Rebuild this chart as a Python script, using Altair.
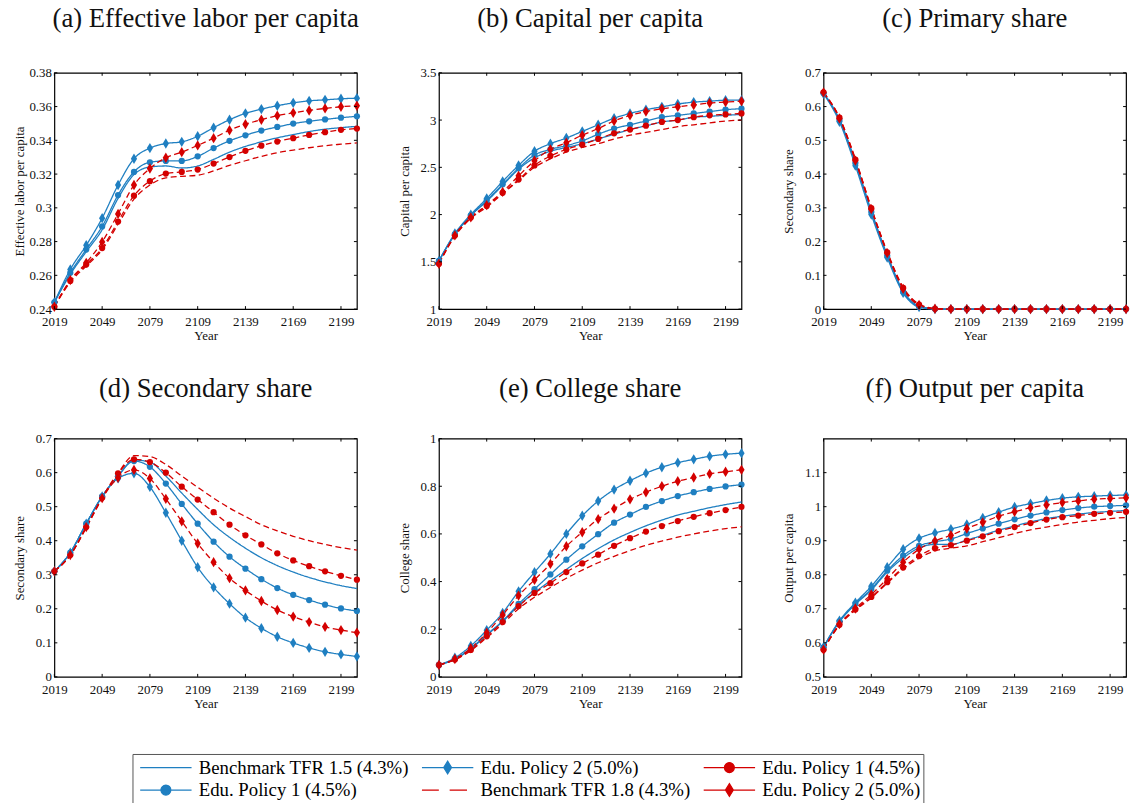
import altair as alt
import pandas as pd

# ---------------------------------------------------------------- data
YEARS = list(range(2019, 2210, 10))
X_TICKS = [2019, 2049, 2079, 2109, 2139, 2169, 2199]

# (a) Effective labor per capita
labor_bench15 = [0.244, 0.2606, 0.274, 0.287, 0.3056, 0.3197, 0.3242, 0.3248, 0.3236, 0.3248,
                 0.3287, 0.333, 0.3364, 0.3391, 0.3415, 0.3434, 0.3452, 0.3466, 0.3475, 0.3483]
labor_edu1b = [0.244, 0.2615, 0.2753, 0.289, 0.3076, 0.3213, 0.327, 0.3278, 0.3278, 0.3305,
               0.3354, 0.3397, 0.343, 0.3458, 0.3479, 0.3499, 0.3513, 0.3524, 0.3534, 0.3542]
labor_edu2b = [0.244, 0.2635, 0.2778, 0.2939, 0.3135, 0.3291, 0.3354, 0.3381, 0.3391, 0.3424,
               0.3475, 0.3522, 0.356, 0.3585, 0.3605, 0.3622, 0.3634, 0.364, 0.3646, 0.365]
labor_bench18 = [0.2414, 0.256, 0.2655, 0.2752, 0.2903, 0.3052, 0.3135, 0.3178, 0.3187, 0.3193,
                 0.3219, 0.3252, 0.3279, 0.3305, 0.3327, 0.3342, 0.3356, 0.3368, 0.3377, 0.3385]
labor_edu1r = [0.2414, 0.2567, 0.2664, 0.2762, 0.2919, 0.3072, 0.3158, 0.3203, 0.3213, 0.3227,
               0.3262, 0.3301, 0.3338, 0.3368, 0.3393, 0.3413, 0.3432, 0.3448, 0.3462, 0.347]
labor_edu2r = [0.2414, 0.2572, 0.2674, 0.2798, 0.2964, 0.3135, 0.3233, 0.3297, 0.333, 0.337,
               0.3413, 0.346, 0.3495, 0.3522, 0.3546, 0.3563, 0.3577, 0.3589, 0.3599, 0.3605]

# (b) Capital per capita
capital_bench15 = [1.51, 1.79, 1.99, 2.14, 2.31, 2.48, 2.60, 2.67, 2.71, 2.75,
                   2.80, 2.85, 2.90, 2.94, 2.98, 3.00, 3.03, 3.04, 3.05, 3.06]
capital_edu1b = [1.51, 1.79, 1.99, 2.15, 2.32, 2.49, 2.63, 2.69, 2.73, 2.78,
                 2.85, 2.91, 2.95, 2.99, 3.03, 3.05, 3.07, 3.09, 3.11, 3.12]
capital_edu2b = [1.51, 1.80, 2.00, 2.17, 2.35, 2.52, 2.67, 2.75, 2.81, 2.88,
                 2.95, 3.02, 3.07, 3.11, 3.14, 3.17, 3.19, 3.20, 3.21, 3.21]
capital_bench18 = [1.48, 1.77, 1.96, 2.08, 2.22, 2.36, 2.50, 2.59, 2.66, 2.71,
                   2.75, 2.80, 2.84, 2.87, 2.90, 2.93, 2.95, 2.97, 2.99, 3.00]
capital_edu1r = [1.48, 1.78, 1.97, 2.09, 2.23, 2.37, 2.52, 2.62, 2.69, 2.74,
                 2.80, 2.86, 2.90, 2.94, 2.98, 3.00, 3.03, 3.05, 3.06, 3.07]
capital_edu2r = [1.48, 1.78, 1.97, 2.10, 2.24, 2.41, 2.57, 2.69, 2.76, 2.84,
                 2.91, 2.99, 3.05, 3.09, 3.12, 3.14, 3.16, 3.18, 3.19, 3.20]

# (c) Primary share
primary_bench15 = [0.640, 0.562, 0.437, 0.291, 0.161, 0.054, 0.009, 0.001, 0, 0,
                   0, 0, 0, 0, 0, 0, 0, 0, 0, 0]
primary_edu1b = [0.640, 0.560, 0.433, 0.288, 0.158, 0.052, 0.008, 0.001, 0, 0,
                 0, 0, 0, 0, 0, 0, 0, 0, 0, 0]
primary_edu2b = [0.638, 0.555, 0.425, 0.280, 0.153, 0.048, 0.006, 0, 0, 0,
                 0, 0, 0, 0, 0, 0, 0, 0, 0, 0]
primary_bench18 = [0.642, 0.568, 0.445, 0.300, 0.170, 0.065, 0.015, 0.002, 0, 0,
                   0, 0, 0, 0, 0, 0, 0, 0, 0, 0]
primary_edu1r = [0.642, 0.567, 0.443, 0.299, 0.168, 0.063, 0.013, 0.001, 0, 0,
                 0, 0, 0, 0, 0, 0, 0, 0, 0, 0]
primary_edu2r = [0.642, 0.565, 0.440, 0.296, 0.166, 0.060, 0.012, 0.001, 0, 0,
                 0, 0, 0, 0, 0, 0, 0, 0, 0, 0]

# (d) Secondary share
secondary_bench15 = [0.31, 0.365, 0.45, 0.53, 0.59, 0.637, 0.631, 0.59, 0.54, 0.492,
                     0.447, 0.41, 0.378, 0.35, 0.327, 0.308, 0.292, 0.279, 0.268, 0.2595]
secondary_edu1b = [0.31, 0.365, 0.45, 0.53, 0.59, 0.634, 0.617, 0.568, 0.508, 0.45,
                   0.397, 0.353, 0.318, 0.287, 0.261, 0.241, 0.2256, 0.212, 0.201, 0.1936]
secondary_edu2b = [0.31, 0.365, 0.45, 0.53, 0.583, 0.598, 0.558, 0.482, 0.40, 0.322,
                   0.263, 0.215, 0.174, 0.143, 0.118, 0.0997, 0.085, 0.0736, 0.066, 0.060]
secondary_bench18 = [0.31, 0.357, 0.438, 0.524, 0.598, 0.65, 0.647, 0.624, 0.59, 0.557,
                     0.525, 0.496, 0.471, 0.447, 0.429, 0.413, 0.40, 0.389, 0.38, 0.3727]
secondary_edu1r = [0.31, 0.358, 0.44, 0.527, 0.598, 0.639, 0.631, 0.60, 0.5586, 0.521,
                   0.484, 0.447, 0.416, 0.389, 0.363, 0.342, 0.325, 0.31, 0.297, 0.2856]
secondary_edu2r = [0.31, 0.358, 0.44, 0.525, 0.585, 0.608, 0.583, 0.523, 0.457, 0.392,
                   0.337, 0.29, 0.254, 0.223, 0.1965, 0.177, 0.161, 0.147, 0.1375, 0.13]

# (e) College share
college_bench15 = [0.05, 0.074, 0.117, 0.175, 0.232, 0.299, 0.354, 0.403, 0.451, 0.497,
                   0.538, 0.575, 0.606, 0.634, 0.658, 0.679, 0.695, 0.71, 0.723, 0.734]
college_edu1b = [0.05, 0.075, 0.12, 0.178, 0.235, 0.306, 0.368, 0.43, 0.492, 0.548,
                 0.599, 0.647, 0.681, 0.713, 0.738, 0.759, 0.775, 0.789, 0.799, 0.807]
college_edu2b = [0.05, 0.08, 0.13, 0.196, 0.268, 0.359, 0.439, 0.516, 0.60, 0.676,
                 0.738, 0.786, 0.823, 0.855, 0.88, 0.899, 0.913, 0.926, 0.934, 0.939]
college_bench18 = [0.05, 0.072, 0.11, 0.165, 0.222, 0.286, 0.334, 0.375, 0.414, 0.448,
                   0.479, 0.506, 0.53, 0.552, 0.57, 0.586, 0.60, 0.612, 0.622, 0.63]
college_edu1r = [0.05, 0.073, 0.113, 0.17, 0.23, 0.297, 0.352, 0.393, 0.44, 0.476,
                 0.513, 0.55, 0.582, 0.61, 0.633, 0.654, 0.672, 0.687, 0.70, 0.713]
college_edu2r = [0.05, 0.075, 0.12, 0.185, 0.26, 0.341, 0.407, 0.474, 0.548, 0.607,
                 0.662, 0.706, 0.745, 0.775, 0.80, 0.821, 0.837, 0.852, 0.861, 0.869]

# (f) Output per capita
output_bench15 = [0.587, 0.662, 0.713, 0.755, 0.808, 0.849, 0.879, 0.889, 0.889, 0.902,
                  0.916, 0.931, 0.943, 0.955, 0.965, 0.972, 0.978, 0.983, 0.986, 0.989]
output_edu1b = [0.587, 0.663, 0.715, 0.758, 0.812, 0.856, 0.885, 0.897, 0.905, 0.921,
                0.936, 0.95, 0.963, 0.974, 0.983, 0.99, 0.996, 1.0, 1.002, 1.004]
output_edu2b = [0.587, 0.665, 0.718, 0.766, 0.822, 0.875, 0.907, 0.923, 0.934, 0.948,
                0.967, 0.984, 0.999, 1.009, 1.018, 1.025, 1.029, 1.031, 1.033, 1.034]
output_bench18 = [0.58, 0.652, 0.696, 0.732, 0.775, 0.817, 0.849, 0.87, 0.878, 0.885,
                  0.897, 0.909, 0.921, 0.932, 0.94, 0.948, 0.955, 0.96, 0.965, 0.968]
output_edu1r = [0.58, 0.653, 0.698, 0.735, 0.778, 0.821, 0.855, 0.878, 0.887, 0.90,
                0.913, 0.928, 0.94, 0.952, 0.962, 0.969, 0.974, 0.979, 0.982, 0.985]
output_edu2r = [0.58, 0.655, 0.701, 0.742, 0.788, 0.837, 0.875, 0.899, 0.916, 0.936,
                0.954, 0.972, 0.985, 0.997, 1.005, 1.012, 1.017, 1.022, 1.024, 1.026]

# ---------------------------------------------------------------- styling
BLUE = "#1f7fc1"
RED = "#d40000"
FONT = "Liberation Serif"
W = 306
TICK = 3

# legend entries fill a 2-row x 3-column grid column by column
SERIES = ["bench15", "edu1b", "edu2b", "bench18", "edu1r", "edu2r"]
SERIES_COLORS = [BLUE, BLUE, BLUE, RED, RED, RED]
DASHED = {"bench15": "solid", "edu1b": "solid", "edu2b": "solid",
          "bench18": "dashed", "edu1r": "dashed", "edu2r": "dashed"}

DIAMOND = "M0,-1 L0.6,0 L0,1 L-0.6,0 Z"
# legend glyphs: a line segment with (optionally) the series marker on it
LEG_SOLID = "M-0.6,0 L4.87,0"
LEG_DASHED = "M-0.6,0 L1.2,0 M2.35,0 L4.2,0"
LEG_CIRCLE = ("M-0.6,0 L4.87,0 M2.665,0 A0.53,0.53 0 1,1 1.605,0 "
              "A0.53,0.53 0 1,1 2.665,0 Z")
LEG_DIAMOND = "M-0.6,0 L4.87,0 M2.135,-0.68 L2.555,0 L2.135,0.68 L1.715,0 Z"
LEGEND_SHAPES = [LEG_SOLID, LEG_CIRCLE, LEG_DIAMOND, LEG_DASHED, LEG_CIRCLE, LEG_DIAMOND]

LABEL_EXPR = (
    "datum.value == 'bench15' ? 'Benchmark TFR 1.5 (4.3%)' : "
    "datum.value == 'bench18' ? 'Benchmark TFR 1.8 (4.3%)' : "
    "(datum.value == 'edu1b' || datum.value == 'edu1r') ? 'Edu. Policy 1 (4.5%)' : "
    "'Edu. Policy 2 (5.0%)'"
)


def long_frame(series_values):
    rows = []
    for key, vals in series_values.items():
        for year, v in zip(YEARS, vals):
            rows.append({"year": year, "series": key, "dash": DASHED[key], "value": v})
    return pd.DataFrame(rows)


def make_panel(title, ytitle, ydomain, yticks, series_values, height,
               title_offset=34, with_legend=False):
    df = long_frame(series_values)
    x_enc = alt.X("year:Q", scale=alt.Scale(domain=[2019, 2209], nice=False, zero=False),
                  axis=alt.Axis(values=X_TICKS, format="d", title="Year"))
    y_enc = alt.Y("value:Q", scale=alt.Scale(domain=ydomain, nice=False, zero=False),
                  axis=alt.Axis(values=yticks, format="~g", title=ytitle))
    color_enc = alt.Color("series:N", scale=alt.Scale(domain=SERIES, range=SERIES_COLORS))
    base = alt.Chart(df)

    layers = []
    if with_legend:
        # the key sits below both rows of panels; offsets are from this panel's origin
        legend = alt.Legend(
            orient="none", legendX=79, legendY=689, columns=3, title=None,
            labelExpr=LABEL_EXPR, labelFont=FONT, labelFontSize=19, labelColor="black",
            labelLimit=0, labelOffset=43, symbolSize=361, symbolStrokeWidth=1.2,
            symbolOpacity=1, columnPadding=8, rowPadding=2, padding=3,
            strokeColor="#555555",
        )
        key_layer = base.transform_filter("false").mark_point(
            filled=True, opacity=1, strokeWidth=1.2).encode(
            color=alt.Color("series:N", scale=alt.Scale(domain=SERIES, range=SERIES_COLORS),
                            legend=legend),
            stroke=alt.Stroke("series:N", scale=alt.Scale(domain=SERIES, range=SERIES_COLORS),
                              legend=legend),
            shape=alt.Shape("series:N", scale=alt.Scale(domain=SERIES, range=LEGEND_SHAPES),
                            legend=legend),
        )
        layers.append(key_layer)

    lines = base.mark_line(interpolate="monotone", strokeWidth=1.3).encode(
        x=x_enc, y=y_enc, color=color_enc,
        strokeDash=alt.StrokeDash("dash:N",
                                  scale=alt.Scale(domain=["solid", "dashed"],
                                                  range=[[1, 0], [6, 3.5]]),
                                  legend=None),
    )
    circles = base.transform_filter(
        alt.FieldOneOfPredicate(field="series", oneOf=["edu1b", "edu1r"])
    ).mark_point(filled=True, shape="circle", size=40, opacity=1).encode(
        x=x_enc, y=y_enc, color=color_enc)
    diamonds = base.transform_filter(
        alt.FieldOneOfPredicate(field="series", oneOf=["edu2b", "edu2r"])
    ).mark_point(filled=True, shape=DIAMOND, size=110, opacity=1).encode(
        x=x_enc, y=y_enc, color=color_enc)

    # inward-pointing ticks on all four sides of the box
    ytick_df = pd.DataFrame({"value": yticks})
    xtick_df = pd.DataFrame({"year": X_TICKS})
    tick_style = dict(color="black", strokeWidth=1)
    y_left = alt.Chart(ytick_df).mark_rule(**tick_style).encode(
        y=y_enc, x=alt.value(0), x2=alt.value(TICK))
    y_right = alt.Chart(ytick_df).mark_rule(**tick_style).encode(
        y=y_enc, x=alt.value(W - TICK), x2=alt.value(W))
    x_bottom = alt.Chart(xtick_df).mark_rule(**tick_style).encode(
        x=x_enc, y=alt.value(height - TICK), y2=alt.value(height))
    x_top = alt.Chart(xtick_df).mark_rule(**tick_style).encode(
        x=x_enc, y=alt.value(0), y2=alt.value(TICK))

    layers += [lines, circles, diamonds, y_left, y_right, x_bottom, x_top]

    return alt.layer(*layers).properties(
        width=W, height=height,
        title=alt.TitleParams(title, offset=title_offset),
    )


def series(b15, e1b, e2b, b18, e1r, e2r):
    return {"bench15": b15, "edu1b": e1b, "edu2b": e2b,
            "bench18": b18, "edu1r": e1r, "edu2r": e2r}


pa = make_panel("(a) Effective labor per capita", "Effective labor per capita",
                [0.24, 0.38], [0.24, 0.26, 0.28, 0.30, 0.32, 0.34, 0.36, 0.38],
                series(labor_bench15, labor_edu1b, labor_edu2b,
                       labor_bench18, labor_edu1r, labor_edu2r),
                height=239, with_legend=True)
pb = make_panel("(b) Capital per capita", "Capital per capita",
                [1, 3.5], [1, 1.5, 2, 2.5, 3, 3.5],
                series(capital_bench15, capital_edu1b, capital_edu2b,
                       capital_bench18, capital_edu1r, capital_edu2r),
                height=239)
pc = make_panel("(c) Primary share", "Secondary share",
                [0, 0.7], [0, 0.1, 0.2, 0.3, 0.4, 0.5, 0.6, 0.7],
                series(primary_bench15, primary_edu1b, primary_edu2b,
                       primary_bench18, primary_edu1r, primary_edu2r),
                height=239)
pd_ = make_panel("(d) Secondary share", "Secondary share",
                 [0, 0.7], [0, 0.1, 0.2, 0.3, 0.4, 0.5, 0.6, 0.7],
                 series(secondary_bench15, secondary_edu1b, secondary_edu2b,
                        secondary_bench18, secondary_edu1r, secondary_edu2r),
                 height=241, title_offset=30)
pe = make_panel("(e) College share", "College share",
                [0, 1], [0, 0.2, 0.4, 0.6, 0.8, 1],
                series(college_bench15, college_edu1b, college_edu2b,
                       college_bench18, college_edu1r, college_edu2r),
                height=241, title_offset=30)
pf = make_panel("(f) Output per capita", "Output per capita",
                [0.5, 1.2], [0.5, 0.6, 0.7, 0.8, 0.9, 1.0, 1.1],
                series(output_bench15, output_edu1b, output_edu2b,
                       output_bench18, output_edu1r, output_edu2r),
                height=241, title_offset=36)

row1 = alt.hconcat(pa, pb, pc, spacing=37)
row2 = alt.hconcat(pd_, pe, pf, spacing=37)

chart = alt.vconcat(row1, row2, spacing=30).resolve_scale(
    color="shared", stroke="shared", shape="shared"
).properties(
    padding={"left": 13, "top": 0, "right": 0, "bottom": 0},
    background="white",
).configure_view(
    stroke="black", strokeWidth=1.2
).configure_axis(
    domain=False, grid=False, ticks=False,
    labelFont=FONT, labelFontSize=13, labelColor="#111111",
    titleFont=FONT, titleFontSize=13, titleFontWeight="normal", titleColor="#111111",
).configure_axisY(
    minExtent=26, maxExtent=26, labelPadding=3, titlePadding=2,
).configure_axisX(
    labelPadding=7, titlePadding=1, labelFlush=False,
).configure_title(
    font=FONT, fontSize=27, fontWeight="normal", color="#111111", anchor="middle",
)

chart.save("out.html", embed_options={"renderer": "svg", "actions": False})
